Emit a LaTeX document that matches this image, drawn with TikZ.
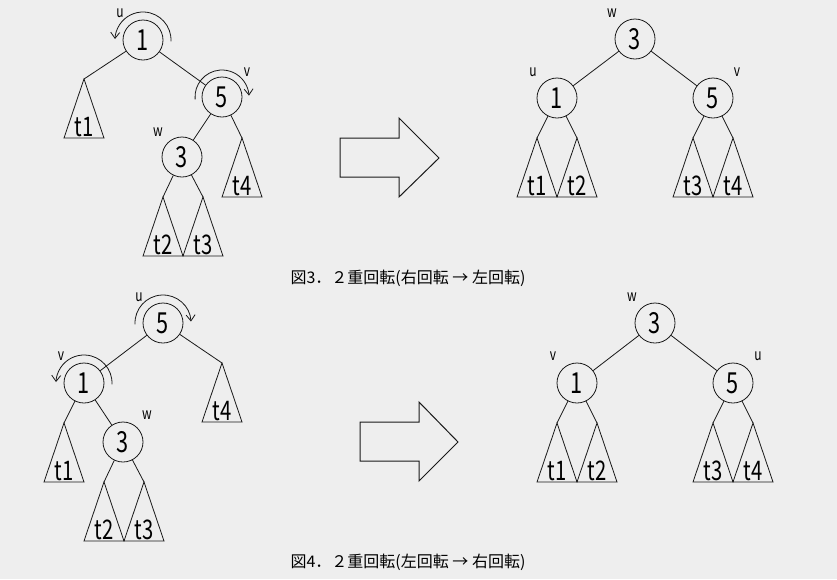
\documentclass[tikz,border=0pt]{standalone}
\usepackage{fontspec}
\usepackage{tikz}
\usetikzlibrary{arrows.meta,calc}
\newfontfamily\jpfont{Noto Sans CJK JP}
\newfontfamily\gothfont[FakeStretch=0.75]{Noto Sans CJK JP}
\definecolor{page-bg}{RGB}{238,238,238}
\definecolor{ink}{RGB}{25,25,25}
\tikzset{
    key-node/.style = {draw=ink, circle, minimum size=40pt, inner sep=0pt, font=\gothfont\fontsize{29}{29}\selectfont},
    sub-label/.style = {inner sep=0pt, font=\gothfont\fontsize{27}{27}\selectfont},
    name-label/.style = {inner sep=0pt, font=\gothfont\fontsize{16}{16}\selectfont},
    rot-arrow/.style = {draw=ink, -{Straight Barb[length=6pt,width=9pt]}},
    big-arrow/.style = {draw=ink, line width=1pt},
    caption-text/.style = {font=\jpfont\fontsize{16}{16}\selectfont},
}
% subtree triangle: name, apex, text
\newcommand{\subtree}[3]{%
    \coordinate (#1) at #2;
    \draw (#1) -- ++(-20,-59) -- ++(40,0) -- cycle;
    \node[sub-label] (#1-txt) at ($(#1)+(0,-48)$) {#3};
}

\begin{document}
\begin{tikzpicture}[x=1pt, y=1pt, draw=ink, line width=0.8pt]
\fill[page-bg] (0,0) rectangle (837,-579);
\useasboundingbox (0,0) rectangle (837,-579);

% Fig.3 left: before
\node[key-node] (a1) at (143,-40) {1};
\node[key-node] (a5) at (222,-97) {5};
\node[key-node] (a3) at (182,-157) {3};
\subtree{a-t1}{(84,-79)}{t1}
\subtree{a-t4}{(242,-138)}{t4}
\subtree{a-t2}{(163,-197)}{t2}
\subtree{a-t3}{(203,-197)}{t3}
\draw (a1) -- (a-t1);
\draw (a1) -- (a5);
\draw (a5) -- (a3);
\draw (a5) -- (a-t4);
\draw (a3) -- (a-t2);
\draw (a3) -- (a-t3);
\node[name-label] (a-u) at (120,-13) {u};
\node[name-label] (a-v) at (247,-72) {v};
\node[name-label] (a-w) at (158,-132) {w};
\draw[rot-arrow] ($(a1.center)+(-3:28pt)$) arc[start angle=-3, end angle=178, radius=28pt];
\draw[rot-arrow] ($(a5.center)+(185:27pt)$) arc[start angle=185, end angle=3, radius=27pt];

% Fig.3 arrow
\draw[big-arrow] (340,-138) -- (399,-138) -- (399,-118) -- (439,-158) -- (399,-197) -- (399,-177) -- (340,-177) -- cycle;

% Fig.3 right: after
\node[key-node] (b3) at (635,-39) {3};
\node[key-node] (b1) at (557,-98) {1};
\node[key-node] (b5) at (713,-98) {5};
\subtree{b-t1}{(537,-138)}{t1}
\subtree{b-t2}{(577,-138)}{t2}
\subtree{b-t3}{(693,-138)}{t3}
\subtree{b-t4}{(733,-138)}{t4}
\draw (b3) -- (b1);
\draw (b3) -- (b5);
\draw (b1) -- (b-t1);
\draw (b1) -- (b-t2);
\draw (b5) -- (b-t3);
\draw (b5) -- (b-t4);
\node[name-label] (b-w) at (612,-13) {w};
\node[name-label] (b-u) at (533,-72) {u};
\node[name-label] (b-v) at (737,-72) {v};

\node[caption-text] (cap3) at (408,-278) {図3．２重回転(右回転 → 左回転)};

% Fig.4 left: before
\node[key-node] (c5) at (163,-323) {5};
\node[key-node] (c1) at (84,-383) {1};
\node[key-node] (c3) at (123,-442) {3};
\subtree{c-t4}{(222,-363)}{t4}
\subtree{c-t1}{(64,-423)}{t1}
\subtree{c-t2}{(104,-482)}{t2}
\subtree{c-t3}{(144,-482)}{t3}
\draw (c5) -- (c1);
\draw (c5) -- (c-t4);
\draw (c1) -- (c-t1);
\draw (c1) -- (c3);
\draw (c3) -- (c-t2);
\draw (c3) -- (c-t3);
\node[name-label] (c-u) at (139,-297) {u};
\node[name-label] (c-v) at (61,-356) {v};
\node[name-label] (c-w) at (147,-415) {w};
\draw[rot-arrow] ($(c5.center)+(183:28pt)$) arc[start angle=183, end angle=3, radius=28pt];
\draw[rot-arrow] ($(c1.center)+(-3:28pt)$) arc[start angle=-3, end angle=178, radius=28pt];

% Fig.4 arrow
\draw[big-arrow] (360,-422) -- (419,-422) -- (419,-402) -- (458,-442) -- (419,-481) -- (419,-461) -- (360,-461) -- cycle;

% Fig.4 right: after
\node[key-node] (d3) at (655,-323) {3};
\node[key-node] (d1) at (577,-383) {1};
\node[key-node] (d5) at (733,-383) {5};
\subtree{d-t1}{(557,-423)}{t1}
\subtree{d-t2}{(597,-423)}{t2}
\subtree{d-t3}{(713,-423)}{t3}
\subtree{d-t4}{(753,-423)}{t4}
\draw (d3) -- (d1);
\draw (d3) -- (d5);
\draw (d1) -- (d-t1);
\draw (d1) -- (d-t2);
\draw (d5) -- (d-t3);
\draw (d5) -- (d-t4);
\node[name-label] (d-w) at (632,-297) {w};
\node[name-label] (d-v) at (553,-356) {v};
\node[name-label] (d-u) at (758,-356) {u};

\node[caption-text] (cap4) at (408,-562) {図4．２重回転(左回転 → 右回転)};
\end{tikzpicture}
\end{document}
